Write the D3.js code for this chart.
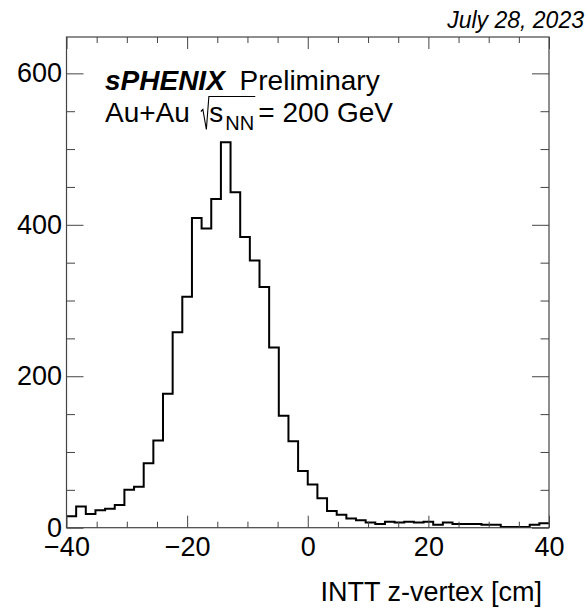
<!DOCTYPE html>
<html>
<head>
<meta charset="utf-8">
<script src="https://cdn.jsdelivr.net/npm/d3@7"></script>
<style>
  body { margin: 0; background: #fff; }
  svg { display: block; font-family: "Liberation Sans", Arial, Helvetica, sans-serif; }
</style>
</head>
<body>
<div id="chart"></div>
<script>
// histogram range and bin contents (50 bins, -40..40 cm)
var xRange = [-40, 40];
var yRange = [0, 648];
var counts = [15, 28, 18, 23, 25, 30, 50, 54, 85, 115,
              177, 258, 305, 409, 395, 434, 509, 443, 384, 353,
              318, 238, 148, 114, 75, 57, 39, 22, 17, 12,
              10, 7, 5, 8, 7, 8, 7, 8, 4, 7,
              5, 5, 5, 4, 4, 1, 1, 1, 4, 6];
var xMajor = [-40, -20, 0, 20, 40];
var xMinorStep = 5;
var yMajor = [0, 200, 400, 600];
var yMinorStep = 50;

var W = 587, H = 609;
// frame edges (note: "top" is a reserved window prop, so pad* names)
var padL = 66.5, padR = 549, padT = 37, padB = 527.7;
var labelSize = "27px";

var svg = d3.select("#chart").append("svg")
	.attr("width", W)
	.attr("height", H);

var x = d3.scaleLinear().domain(xRange).range([padL, padR]);
var y = d3.scaleLinear().domain(yRange).range([padB, padT]);

var binW = (xRange[1] - xRange[0]) / counts.length;
var pts = counts.map(function(c, i) { return [xRange[0] + i * binW, c]; });
pts.push([xRange[1], counts[counts.length - 1]]);

// histogram outline
var step = d3.line()
	.x(function(d) { return x(d[0]); })
	.y(function(d) { return y(d[1]); })
	.curve(d3.curveStepAfter);

svg.append("path")
	.attr("d", step(pts))
	.attr("fill", "none")
	.attr("stroke", "#000")
	.attr("stroke-width", 2);

// axes: major + minor ticks, all pointing inwards
var axisColor = "#444";
var xMinor = d3.range(xRange[0], xRange[1] + 0.01, xMinorStep).filter(function(v) { return xMajor.indexOf(v) < 0; });
var yMinor = d3.range(0, yRange[1], yMinorStep).filter(function(v) { return yMajor.indexOf(v) < 0; });

function styleAxis(g) {
	g.select(".domain").remove();
	g.selectAll("line").attr("stroke", axisColor).attr("stroke-width", 1);
	g.selectAll("text").attr("fill", "#000").style("font-size", labelSize).style("font-family", "'Liberation Sans', Arial, sans-serif");
}

svg.append("g").attr("transform", "translate(0," + padB + ")")
	.call(d3.axisBottom(x).tickValues(xMajor).tickSize(-12).tickPadding(9).tickFormat(d3.format("d")))
	.call(styleAxis);
svg.append("g").attr("transform", "translate(0," + padB + ")")
	.call(d3.axisBottom(x).tickValues(xMinor).tickSize(-6).tickFormat(""))
	.call(styleAxis);
svg.append("g").attr("transform", "translate(0," + padT + ")")
	.call(d3.axisTop(x).tickValues(xMajor).tickSize(-12).tickFormat(""))
	.call(styleAxis);
svg.append("g").attr("transform", "translate(0," + padT + ")")
	.call(d3.axisTop(x).tickValues(xMinor).tickSize(-6).tickFormat(""))
	.call(styleAxis);

svg.append("g").attr("transform", "translate(" + padL + ",0)")
	.call(d3.axisLeft(y).tickValues(yMajor).tickSize(-17).tickPadding(4.5).tickFormat(d3.format("d")))
	.call(styleAxis);
svg.append("g").attr("transform", "translate(" + padL + ",0)")
	.call(d3.axisLeft(y).tickValues(yMinor).tickSize(-8.5).tickFormat(""))
	.call(styleAxis);
svg.append("g").attr("transform", "translate(" + padR + ",0)")
	.call(d3.axisRight(y).tickValues(yMajor).tickSize(-17).tickFormat(""))
	.call(styleAxis);
svg.append("g").attr("transform", "translate(" + padR + ",0)")
	.call(d3.axisRight(y).tickValues(yMinor).tickSize(-8.5).tickFormat(""))
	.call(styleAxis);

// frame
svg.append("rect")
	.attr("x", padL).attr("y", padT)
	.attr("width", padR - padL).attr("height", padB - padT)
	.attr("fill", "none")
	.attr("stroke", axisColor)
	.attr("stroke-width", 1.2);

// axis title
svg.append("text")
	.attr("x", 542).attr("y", 601)
	.attr("text-anchor", "end")
	.style("font-size", labelSize)
	.text("INTT z-vertex [cm]");

// date
svg.append("text")
	.attr("x", 584).attr("y", 28)
	.attr("text-anchor", "end")
	.style("font-size", "23px")
	.style("font-style", "italic")
	.text("July 28, 2023");

// label line 1
var lab1 = svg.append("text")
	.attr("x", 105).attr("y", 90)
	.style("font-size", "28px");
lab1.append("tspan").style("font-weight", "bold").style("font-style", "italic").text("sPHENIX");
lab1.append("tspan").attr("dx", 7).text(" Preliminary");

// label line 2 with sqrt(s_NN)
var base2 = 121.5, cx = 105;
var t = svg.append("text").attr("x", cx).attr("y", base2).style("font-size", "28px").text("Au+Au");
cx += t.node().getComputedTextLength() + 12;
var sqrtX = cx;
cx += 7.5;
t = svg.append("text").attr("x", cx).attr("y", base2).style("font-size", "28px").text("s");
cx += t.node().getComputedTextLength() + 2;
t = svg.append("text").attr("x", cx).attr("y", base2 + 8.5).style("font-size", "20px").text("NN");
cx += t.node().getComputedTextLength() + 1;
var p = d3.path();
p.moveTo(sqrtX - 1, base2 - 10);
p.lineTo(sqrtX + 1, base2 - 12);
p.lineTo(sqrtX + 4.5, base2 + 8);
p.lineTo(sqrtX + 7, base2 - 25);
p.lineTo(cx, base2 - 25);
svg.append("path").attr("d", p.toString())
	.attr("fill", "none").attr("stroke", "#000").attr("stroke-width", 1.1);
svg.append("text").attr("x", cx + 3).attr("y", base2).style("font-size", "28px").text(" = 200 GeV");
</script>
</body>
</html>
